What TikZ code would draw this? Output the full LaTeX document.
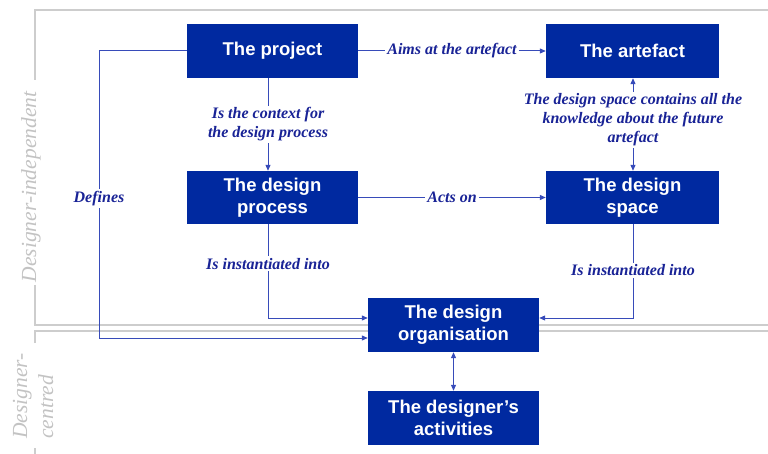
\documentclass[tikz,border=0pt]{standalone}
\usepackage{fontspec}
\setmainfont{Liberation Serif}
\newfontfamily\boxfont{Liberation Sans}
\usetikzlibrary{arrows.meta}
\definecolor{boxblue}{RGB}{0,41,160}
\definecolor{conblue}{RGB}{55,75,185}
\definecolor{labblue}{RGB}{25,35,150}
\definecolor{guide}{RGB}{205,205,205}
\definecolor{guidetext}{RGB}{195,195,195}
\tikzset{
  box/.style={draw=none, fill=boxblue, text=white, minimum width=171pt, minimum height=54pt,
    inner sep=0pt, align=center, font=\boxfont\bfseries\fontsize{18.5}{22}\selectfont},
  conn/.style={draw=conblue, line width=1pt, -{Triangle[length=6pt,width=5pt]}},
  dconn/.style={draw=conblue, line width=1pt, {Triangle[length=6pt,width=5pt]}-{Triangle[length=6pt,width=5pt]}},
  lab/.style={fill=white, text=labblue, inner sep=2pt, align=center,
    font=\bfseries\itshape\fontsize{16}{19}\selectfont},
  guideline/.style={draw=guide, line width=1.2pt},
  guidelab/.style={text=guidetext, rotate=90, inner sep=0pt, align=left,
    font=\itshape\fontsize{21.5}{26}\selectfont}
}
\begin{document}
\begin{tikzpicture}[x=1pt,y=-1pt]
\useasboundingbox (0,0) rectangle (768,454);
% guide lines
\draw[guideline] (35,80) -- (35,10) -- (768,10);
\draw[guideline] (35,285) -- (35,325) -- (768,325);
\draw[guideline] (35,343) -- (35,331) -- (768,331);
\draw[guideline] (35,448) -- (35,454);
\node[guidelab] (gi) at (31,187) {Designer-independent};
\node[guidelab] (gc) at (33,396) {Designer-\\centred};
% boxes
\node[box] (proj) at (272.5,51) {The project};
\node[box, minimum width=173pt] (art) at (632.5,51) {The artefact};
\node[box, minimum height=53pt] (proc) at (272.5,197.5) {The design\\process};
\node[box, minimum width=173pt, minimum height=53pt] (space) at (632.5,197.5) {The design\\space};
\node[box] (org) at (453.5,325) {The design\\organisation};
\node[box] (act) at (453.5,418) {The designer’s\\activities};
% helper coordinates
\coordinate (cx) at (268,0);
\coordinate (sx) at (633,0);
\coordinate (dx) at (99,0);
\coordinate (y318) at (0,318);
\coordinate (y338) at (0,338);
% connectors
\draw[conn] (proj.east) -- node[lab] {Aims at the artefact} (art.west);
\draw[conn] (proj.south -| cx) -- node[lab] {Is the context for\\the design process} (proc.north -| cx);
\draw[dconn] (art.south -| sx) -- node[lab, pos=0.45] {The design space contains all the\\knowledge about the future\\artefact} (space.north -| sx);
\draw[conn] (proc.east) -- node[lab] {Acts on} (space.west);
\draw[conn] (proc.south -| cx) |- node[lab, pos=0.21] {Is instantiated into} (org.west |- y318);
\draw[conn] (space.south -| sx) |- node[lab, pos=0.245] {Is instantiated into} (org.east |- y318);
\draw[conn] (proj.west) -- (dx |- proj.west) -- node[lab, pos=0.515] {Defines} (dx |- y338) -- (org.west |- y338);
\draw[dconn] (org.south) -- (act.north);
\end{tikzpicture}
\end{document}
